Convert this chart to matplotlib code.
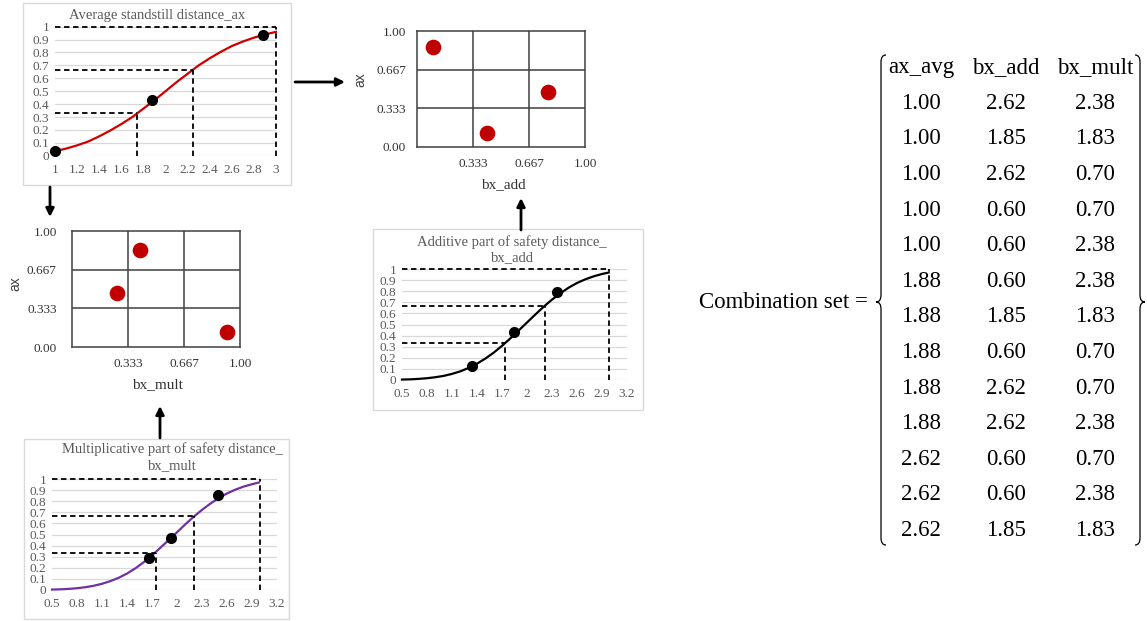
import numpy as np
import matplotlib
matplotlib.use("Agg")
import matplotlib.pyplot as plt
from matplotlib.patches import Rectangle, PathPatch
from matplotlib.path import Path

plt.rcParams['font.family'] = ['Liberation Serif', 'DejaVu Serif']

W, H = 1147, 621

# --- curves ---
ax_x = [1.0, 1.1, 1.2, 1.3, 1.4, 1.5, 1.6, 1.7, 1.8, 1.9, 2.0,
        2.1, 2.2, 2.3, 2.4, 2.5, 2.6, 2.7, 2.8, 2.9, 3.0]
ax_y = [0.035, 0.055, 0.08, 0.11, 0.15, 0.195, 0.245, 0.30, 0.365, 0.43, 0.50,
        0.57, 0.635, 0.70, 0.755, 0.805, 0.85, 0.885, 0.915, 0.94, 0.96]
ax_dots_x = [1.0, 1.88, 2.88]
ax_dots_y = [0.04, 0.43, 0.935]
ax_cuts = [1.74, 2.25, 3.0]

add_x = [0.5, 0.6, 0.7, 0.8, 0.9, 1.0, 1.1, 1.2, 1.3, 1.4, 1.5, 1.6, 1.7,
         1.8, 1.9, 2.0, 2.1, 2.2, 2.3, 2.4, 2.5, 2.6, 2.7, 2.8, 2.9, 2.98]
add_y = [0.004, 0.006, 0.01, 0.016, 0.025, 0.037, 0.055, 0.078, 0.109, 0.147, 0.193, 0.246, 0.308,
         0.375, 0.446, 0.518, 0.59, 0.66, 0.724, 0.781, 0.832, 0.874, 0.907, 0.934, 0.955, 0.968]
add_dots_x = [1.34, 1.84, 2.36]
add_dots_y = [0.13, 0.43, 0.79]
add_cuts = [1.74, 2.21, 2.98]

mult_x = add_x
mult_y = [0.004, 0.006, 0.01, 0.016, 0.025, 0.038, 0.056, 0.08, 0.11, 0.148, 0.195, 0.25, 0.312,
          0.38, 0.45, 0.52, 0.592, 0.66, 0.722, 0.778, 0.828, 0.87, 0.904, 0.932, 0.953, 0.968]
mult_dots_x = [1.66, 1.93, 2.49]
mult_dots_y = [0.29, 0.47, 0.86]
mult_cuts = [1.75, 2.2, 2.99]

cut_levels = [0.333, 0.667, 1.0]

# --- Latin hypercube grids ---
top_grid_x = [0.095, 0.417, 0.780]   # bx_add
top_grid_y = [0.862, 0.121, 0.474]   # ax
left_grid_x = [0.268, 0.405, 0.923]  # bx_mult
left_grid_y = [0.466, 0.836, 0.129]  # ax

# --- combination set ---
combo_header = ["ax_avg", "bx_add", "bx_mult"]
combo_ax = [1.00, 1.00, 1.00, 1.00, 1.00, 1.88, 1.88, 1.88, 1.88, 1.88, 2.62, 2.62, 2.62]
combo_add = [2.62, 1.85, 2.62, 0.60, 0.60, 0.60, 1.85, 0.60, 2.62, 2.62, 0.60, 0.60, 1.85]
combo_mult = [2.38, 1.83, 0.70, 0.70, 2.38, 2.38, 1.83, 0.70, 0.70, 2.38, 0.70, 2.38, 1.83]

fig = plt.figure(figsize=(W / 100, H / 100), dpi=100)

# overlay in pixel coordinates
ov = fig.add_axes([0, 0, 1, 1])
ov.set_xlim(0, W)
ov.set_ylim(H, 0)
ov.axis('off')


def px_axes(l, t, r, b):
    a = fig.add_axes([l / W, 1 - b / H, (r - l) / W, (b - t) / H])
    a.set_facecolor('none')
    return a


def cdf_panel(box, xs, ys, color, dx, dy, cuts, xlim, xticks, xlabels):
    a = px_axes(*box)
    a.set_xlim(xlim)
    a.set_ylim(0, 1)
    yt = [0, 0.1, 0.2, 0.3, 0.4, 0.5, 0.6, 0.7, 0.8, 0.9, 1]
    a.set_yticks(yt)
    a.set_yticklabels(["0"] + [f"{v:g}" for v in yt[1:]])
    a.set_xticks(xticks)
    a.set_xticklabels(xlabels)
    a.grid(axis='y', color='#D9D9D9', lw=0.9)
    a.set_axisbelow(True)
    for s in a.spines.values():
        s.set_visible(False)
    a.tick_params(length=0, labelsize=9.5, colors='#595959', pad=4)
    a.tick_params(axis='x', pad=6)
    a.plot(xs, ys, color=color, lw=1.6, clip_on=False, zorder=3)
    for c, lv in zip(cuts, cut_levels):
        a.plot([xlim[0], c], [lv, lv], color='k', ls=(0, (3, 2)), lw=1.3, clip_on=False, zorder=4)
        a.plot([c, c], [0, lv], color='k', ls=(0, (3, 2)), lw=1.3, clip_on=False, zorder=4)
    a.plot(dx, dy, 'o', color='k', ms=7, clip_on=False, zorder=5)
    return a


def grid_panel(box, gx, gy, pad_y):
    a = px_axes(*box)
    a.set_xlim(0, 1)
    a.set_ylim(0, 1)
    for v in [1 / 3, 2 / 3]:
        a.axvline(v, color='#404040', lw=1.1)
        a.axhline(v, color='#404040', lw=1.1)
    for s in a.spines.values():
        s.set_color('#404040')
        s.set_linewidth(1.1)
    a.set_yticks([0, 1 / 3, 2 / 3, 1])
    a.set_yticklabels(['0.00', '0.333', '0.667', '1.00'])
    a.set_xticks([1 / 3, 2 / 3, 1])
    a.set_xticklabels(['0.333', '0.667', '1.00'])
    a.tick_params(length=0, labelsize=9.5, colors='#333333')
    a.tick_params(axis='y', pad=pad_y)
    a.tick_params(axis='x', pad=8)
    a.scatter(gx, gy, s=105, color='#C00000', zorder=5, clip_on=False)
    return a


# chart frames
for (l, t, r, b) in [(23, 3, 291, 185), (373, 229, 643, 410), (24, 439, 289, 619)]:
    ov.add_patch(Rectangle((l, t), r - l, b - t, fill=False, ec='#D9D9D9', lw=1))

cdf_panel((55, 26.7, 276, 155.7), ax_x, ax_y, '#D00000', ax_dots_x, ax_dots_y, ax_cuts,
          (1, 3), [1, 1.2, 1.4, 1.6, 1.8, 2, 2.2, 2.4, 2.6, 2.8, 3],
          ['1', '1.2', '1.4', '1.6', '1.8', '2', '2.2', '2.4', '2.6', '2.8', '3'])
tk = [0.5, 0.8, 1.1, 1.4, 1.7, 2.0, 2.3, 2.6, 2.9, 3.2]
tl = ['0.5', '0.8', '1.1', '1.4', '1.7', '2', '2.3', '2.6', '2.9', '3.2']
cdf_panel((402, 269, 627, 380), add_x, add_y, 'black', add_dots_x, add_dots_y, add_cuts,
          (0.5, 3.2), tk, tl)
cdf_panel((52, 479, 277, 590), mult_x, mult_y, '#7030A0', mult_dots_x, mult_dots_y, mult_cuts,
          (0.5, 3.2), tk, tl)

title_kw = dict(ha='center', va='center', fontsize=10.5, color='#595959')
ov.text(157, 15, 'Average standstill distance_ax', **title_kw)
ov.text(512, 242, 'Additive part of safety distance_', **title_kw)
ov.text(512, 258, 'bx_add', **title_kw)
ov.text(172, 449, 'Multiplicative part of safety distance_', **title_kw)
ov.text(172, 466, 'bx_mult', **title_kw)

grid_panel((417, 31, 585, 147), top_grid_x, top_grid_y, 8)
grid_panel((72, 231, 240, 347), left_grid_x, left_grid_y, 11)
ov.text(360, 80, 'ax', rotation=90, ha='center', va='center', fontsize=10,
        color='#404040', family='Liberation Sans')
ov.text(15, 284, 'ax', rotation=90, ha='center', va='center', fontsize=10,
        color='#404040', family='Liberation Sans')
ov.text(503, 185, 'bx_add', ha='center', va='center', fontsize=11, color='#333333')
ov.text(157, 385, 'bx_mult', ha='center', va='center', fontsize=11, color='#333333')

# arrows
arrow_kw = dict(arrowstyle='-|>', color='black', lw=2, mutation_scale=12, shrinkA=0, shrinkB=0)
for start, end in [((295, 82), (345, 82)), ((50, 187), (50, 217)),
                   ((521, 230), (521, 198)), ((160, 438), (160, 406))]:
    ov.annotate('', xy=end, xytext=start, arrowprops=arrow_kw)

# combination set
ov.text(868, 302, 'Combination set =', ha='right', va='center', fontsize=16.5)
col_x = [921, 1006, 1095]
ov.text(col_x[0], 68, combo_header[0], ha='center', va='center', fontsize=16.5)
ov.text(col_x[1], 68, combo_header[1], ha='center', va='center', fontsize=16.5)
ov.text(col_x[2], 68, combo_header[2], ha='center', va='center', fontsize=16.5)
for i in range(len(combo_ax)):
    y = 103.3 + i * 35.6
    ov.text(col_x[0], y, f"{combo_ax[i]:.2f}", ha='center', va='center', fontsize=16.5)
    ov.text(col_x[1], y, f"{combo_add[i]:.2f}", ha='center', va='center', fontsize=16.5)
    ov.text(col_x[2], y, f"{combo_mult[i]:.2f}", ha='center', va='center', fontsize=16.5)


def brace(x_line, x_hook, x_tip, y_top, y_mid, y_bot):
    r = 7
    verts = [(x_hook, y_top), (x_line, y_top), (x_line, y_top + r),
             (x_line, y_mid - r), (x_line, y_mid), (x_tip, y_mid),
             (x_line, y_mid), (x_line, y_mid + r),
             (x_line, y_bot - r), (x_line, y_bot), (x_hook, y_bot)]
    codes = [Path.MOVETO, Path.CURVE3, Path.CURVE3,
             Path.LINETO, Path.CURVE3, Path.CURVE3,
             Path.CURVE3, Path.CURVE3,
             Path.LINETO, Path.CURVE3, Path.CURVE3]
    ov.add_patch(PathPatch(Path(verts, codes), fill=False, ec='black', lw=0.9))


brace(881, 886, 876, 55, 302, 545)
brace(1140, 1135, 1145, 55, 302, 545)

fig.savefig('out.png', dpi=100)
